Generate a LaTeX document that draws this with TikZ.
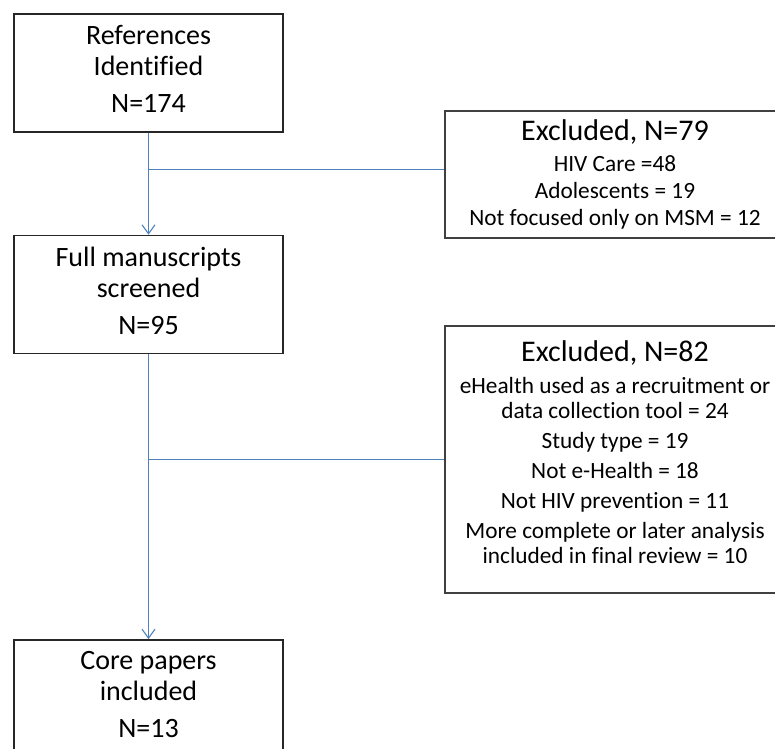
\documentclass[tikz,border=0pt]{standalone}
\usepackage{fontspec}
\setmainfont[Ligatures=NoCommon]{Carlito}
\usetikzlibrary{positioning,arrows.meta}
\definecolor{flowblue}{RGB}{79,129,189}
% give the last line of a box some extra depth, so the text sits higher
\newcommand{\lowpad}[2]{\raisebox{0pt}[\height][\dimexpr\depth+#1\relax]{#2}}

\tikzset{
  stagebox/.style={draw=black!85, line width=1.4pt, minimum width=269pt,
    minimum height=118pt, inner sep=0pt, align=center,
    font=\fontsize{28}{31}\selectfont},
  exclbox/.style={draw=black!75, line width=1.4pt, minimum width=340pt,
    inner sep=0pt, align=center, font=\fontsize{23.3}{25}\selectfont},
  flow/.style={flowblue, line width=1.1pt,
    -{Straight Barb[length=9pt,width=13pt]}},
  branch/.style={flowblue, line width=1.1pt},
}

\begin{document}
\begin{tikzpicture}[x=1pt,y=-1pt]
  \useasboundingbox (0,0) rectangle (775,748);

  % main column
  \node[stagebox] (refs) at (148.5,73)
    {References\\Identified\\[6pt]\lowpad{8pt}{N=174}};
  \node[stagebox, below=102pt of refs] (full)
    {Full manuscripts\\screened\\[6pt]\lowpad{8pt}{N=95}};
  \node[stagebox, below=285pt of full] (core)
    {Core papers\\included\\[6pt]\lowpad{8pt}{N=13}};

  % exclusions, cut off by the right edge
  \node[exclbox, minimum height=127pt] (excl1) at (615,174.5)
    {{\fontsize{30}{33}\selectfont Excluded, N=79}\\[6pt]
     HIV Care =48\\[2pt]Adolescents = 19\\[2pt]Not focused only on MSM = 12};
  \node[exclbox, minimum height=267pt] (excl2) at (615,459.5)
    {{\fontsize{30}{33}\selectfont Excluded, N=82}\\[7pt]
     eHealth used as a recruitment or\\data collection tool = 24\\[5pt]
     Study type = 19\\[5pt]Not e-Health = 18\\[5pt]Not HIV prevention = 11\\[5pt]
     More complete or later analysis\\\lowpad{15pt}{included in final review = 10}};

  % connectors
  \path (refs.south) ++(0,37) coordinate (split1);
  \draw[flow] (refs.south) -- (full.north);
  \draw[branch] (split1) -- (split1 -| excl1.west);
  \draw[flow] (full.south) -- (core.north);
  \draw[branch] (full.south |- excl2.west) -- (excl2.west);
\end{tikzpicture}
\end{document}
